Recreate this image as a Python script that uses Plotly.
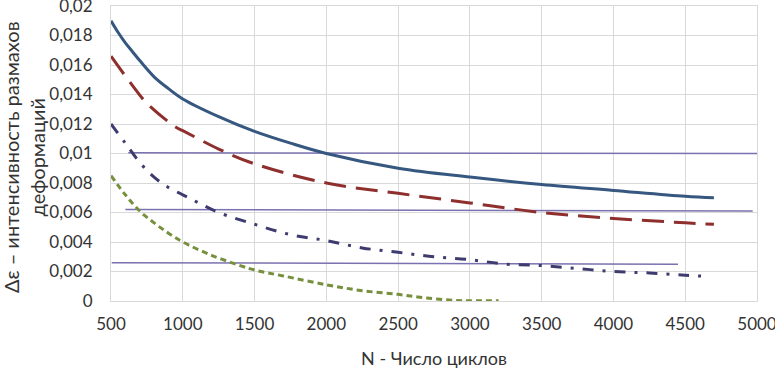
import plotly.graph_objects as go

# --- data ---
n_solid = [500, 550, 600, 650, 700, 800, 900, 1000, 1250, 1500, 1750, 2000, 2500, 3000, 3500, 4000, 4500, 4700]
v_solid = [0.0190, 0.0182, 0.0175, 0.0169, 0.0163, 0.0152, 0.0144, 0.0137, 0.0125, 0.0115, 0.0107, 0.0100, 0.0090, 0.0084, 0.0079, 0.0075, 0.0071, 0.0070]

n_dash = [500, 650, 750, 950, 1000, 1250, 1500, 2000, 2500, 3000, 3500, 4000, 4500, 4700]
v_dash = [0.0166, 0.0146, 0.0134, 0.0118, 0.01155, 0.0103, 0.0093, 0.0080, 0.0073, 0.00665, 0.0060, 0.0056, 0.0053, 0.0052]

n_dashdot = [500, 600, 700, 800, 900, 1000, 1100, 1250, 1500, 1750, 2000, 2250, 2500, 2750, 3000, 3250, 3500, 3750, 4000, 4250, 4500, 4650]
v_dashdot = [0.0120, 0.0107, 0.0094, 0.0084, 0.0077, 0.0072, 0.0067, 0.0060, 0.0052, 0.0045, 0.0041, 0.0036, 0.0033, 0.0030, 0.0028, 0.0025, 0.0024, 0.0022, 0.0020, 0.0019, 0.00175, 0.00167]

n_dot = [500, 600, 700, 800, 900, 1000, 1200, 1400, 1500, 1700, 2000, 2250, 2500, 2700, 2900, 3000, 3200]
v_dot = [0.0085, 0.0072, 0.0061, 0.0053, 0.0046, 0.0040, 0.0031, 0.0024, 0.0021, 0.0017, 0.0011, 0.0007, 0.00045, 0.0002, 0.00004, 0.00002, 0.00001]

# horizontal reference lines (start/end)
h1_n = [620, 5000]
h1_v = [0.01005, 0.0100]
h2_n = [600, 4970]
h2_v = [0.0062, 0.0061]
h3_n = [505, 4450]
h3_v = [0.0026, 0.0025]

x_ticks = [500, 1000, 1500, 2000, 2500, 3000, 3500, 4000, 4500, 5000]
x_ticktext = ["500", "1000", "1500", "2000", "2500", "3000", "3500", "4000", "4500", "5000"]
y_ticks = [0, 0.002, 0.004, 0.006, 0.008, 0.01, 0.012, 0.014, 0.016, 0.018, 0.02]
y_ticktext = ["0", "0,002", "0,004", "0,006", "0,008", "0,01", "0,012", "0,014", "0,016", "0,018", "0,02"]

x_title = "N - Число циклов"
y_title = "Δε – интенсивность размахов<br>деформаций"

FONT = "Lato"
TXT = "#333333"
ref_color = "#7A72B0"

fig = go.Figure()
for hn, hv in [(h1_n, h1_v), (h2_n, h2_v), (h3_n, h3_v)]:
    fig.add_trace(go.Scatter(x=hn, y=hv, mode="lines",
                             line=dict(color=ref_color, width=1.5), showlegend=False))

fig.add_trace(go.Scatter(x=n_solid, y=v_solid, mode="lines", line_shape="spline",
                         line=dict(color="#36577F", width=3), showlegend=False))
fig.add_trace(go.Scatter(x=n_dash, y=v_dash, mode="lines", line_shape="spline",
                         line=dict(color="#8E2F2D", width=3, dash="22px,10px"), showlegend=False))
fig.add_trace(go.Scatter(x=n_dashdot, y=v_dashdot, mode="lines", line_shape="spline",
                         line=dict(color="#3E3C6E", width=3, dash="11px,9px,3px,9px"), showlegend=False))
fig.add_trace(go.Scatter(x=n_dot, y=v_dot, mode="lines", line_shape="spline",
                         line=dict(color="#76903D", width=3, dash="6px,4px"), showlegend=False))

fig.update_layout(
    width=775, height=370,
    margin=dict(l=111, r=18, t=6, b=69),
    paper_bgcolor="white", plot_bgcolor="white",
    font=dict(family=FONT, size=17, color=TXT),
)
fig.update_xaxes(
    range=[500, 5000], tickvals=x_ticks, ticktext=x_ticktext,
    showgrid=True, gridcolor="#D9D9D9", gridwidth=1,
    showline=True, linecolor="#D9D9D9", mirror=True, zeroline=False,
    ticks="", tickfont=dict(size=17, color=TXT), ticklabelstandoff=8,
    ticklabeloverflow="allow",
    title=dict(text=x_title, font=dict(size=18, color=TXT), standoff=18),
    automargin=False,
)
fig.update_yaxes(
    range=[0, 0.02], tickvals=y_ticks, ticktext=y_ticktext,
    showgrid=True, gridcolor="#D9D9D9", gridwidth=1,
    showline=True, linecolor="#D9D9D9", mirror=True, zeroline=False,
    ticks="", tickfont=dict(size=17, color=TXT), ticklabelstandoff=14,
    ticklabeloverflow="allow",
    automargin=False,
)
fig.add_annotation(
    text=y_title, xref="paper", yref="paper",
    x=(24 - 111) / 646, y=0.488, xanchor="center", yanchor="middle",
    textangle=-90, showarrow=False, font=dict(size=20, color=TXT),
)

fig.write_html("out.html", config={"displayModeBar": False},
               post_script="document.body.style.margin='0';")
